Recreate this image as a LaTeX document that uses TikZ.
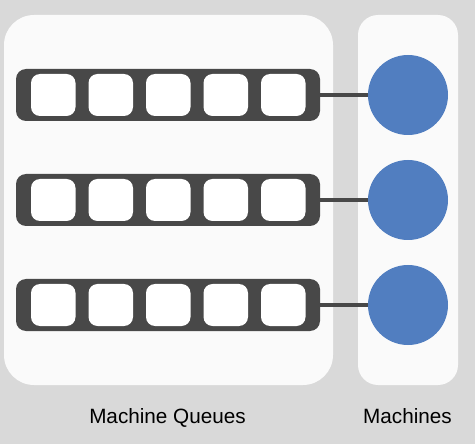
\documentclass[tikz,border=0pt]{standalone}
\usepackage{fontspec}
\setmainfont{Liberation Sans}
\definecolor{bggray}{HTML}{D9D9D9}
\definecolor{panelgray}{HTML}{FAFAFA}
\definecolor{bardark}{HTML}{484848}
\definecolor{machblue}{HTML}{517EC0}
\tikzset{
  panelbox/.style={fill=panelgray, draw=none},
  qbar/.style={fill=bardark, rounded corners=10pt, minimum width=304pt, minimum height=52pt, inner sep=0pt, outer sep=0pt},
  qcell/.style={fill=white, rounded corners=9pt, minimum width=44.5pt, minimum height=42pt, inner sep=0pt, outer sep=0pt},
  machine/.style={circle, fill=machblue, minimum size=80pt, inner sep=0pt, outer sep=0pt},
  link/.style={draw=bardark, line width=3.5pt},
  lbl/.style={font=\fontsize{20.7}{24}\selectfont, anchor=base, inner sep=0pt}
}
\begin{document}
\begin{tikzpicture}[x=1pt,y=-1pt]
  \fill[bggray] (0,0) rectangle (475,444);
  \useasboundingbox (0,0) rectangle (475,444);
  \fill[panelbox, rounded corners=30pt] (4,15) rectangle (333,385);
  \fill[panelbox, rounded corners=20pt] (358,15) rectangle (458,385);
  \foreach \r/\y in {1/95,2/200,3/305}{
    \node[qbar] (q\r) at (168,\y) {};
    \foreach \c/\x in {1/53.25,2/110.75,3/168.25,4/225.75,5/283.25}{
      \node[qcell] (c\r\c) at (\x,\y) {};
    }
    \node[machine] (m\r) at (408,\y) {};
    \draw[link] (q\r.east) -- (m\r.west);
  }
  \node[lbl] (lq) at (167.5,424) {Machine Queues};
  \node[lbl] (lm) at (407.5,424) {Machines};
\end{tikzpicture}
\end{document}
